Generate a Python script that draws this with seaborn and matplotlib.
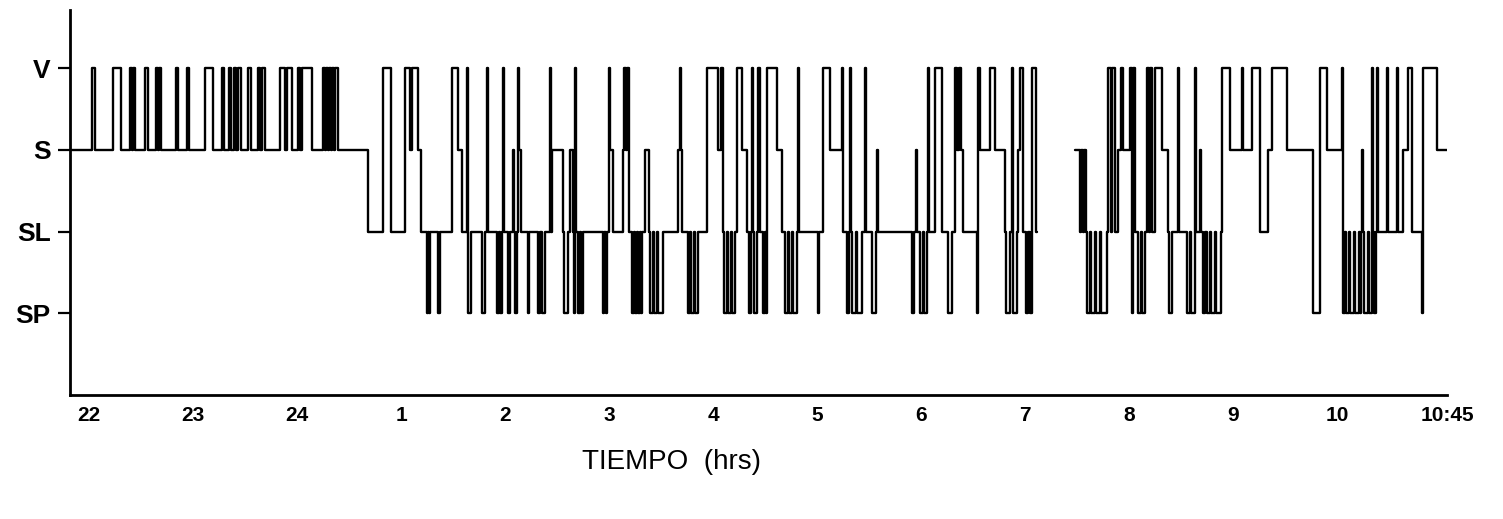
import matplotlib
matplotlib.use("Agg")
import matplotlib.pyplot as plt
import seaborn as sns
import pandas as pd

# ---- data -------------------------------------------------------------
stage_order = ["SP", "SL", "S", "V"]          # bottom -> top
stage_value = {"SP": 0, "SL": 1, "S": 2, "V": 3}

# x tick positions (minutes after 22:00) and labels
tick_minutes = [0, 60, 120, 180, 240, 300, 360, 420, 480, 540, 600, 660, 720, 783.4]
tick_labels = ["22", "23", "24", "1", "2", "3", "4", "5", "6", "7", "8", "9", "10", "10:45"]

# first recorded stretch (22:00 -> ~7:05)
times_1 = [
    -11.0, 1.7, 3.5, 13.8, 18.5, 23.7, 24.8, 25.4, 26.5, 32.3,
    34.0, 38.7, 39.8, 40.4, 41.5, 50.2, 51.3, 56.5, 57.7, 66.9,
    71.5, 76.7, 77.9, 80.8, 81.9, 83.7, 84.8, 86.0, 87.7, 91.7,
    93.5, 97.5, 98.7, 99.8, 101.5, 110.2, 113.1, 114.2, 117.1, 120.6,
    121.7, 122.9, 128.7, 135.0, 136.2, 136.7, 137.9, 138.5, 139.6, 140.2,
    141.3, 141.9, 143.6, 161.0, 169.6, 174.2, 182.3, 185.2, 186.3, 189.8,
    191.5, 195.0, 195.6, 196.1, 196.7, 201.3, 202.5, 209.4, 212.9, 215.2,
    218.1, 218.6, 220.4, 226.7, 228.5, 229.6, 230.2, 235.4, 236.5, 237.1,
    238.3, 238.8, 239.4, 241.7, 242.9, 244.6, 245.2, 245.8, 246.9, 247.5,
    248.1, 249.2, 253.3, 253.8, 259.0, 260.2, 261.3, 263.1, 265.9, 266.5,
    267.1, 273.5, 274.0, 276.3, 277.5, 279.2, 279.8, 280.4, 281.0, 282.1,
    283.3, 283.8, 285.0, 296.5, 297.1, 298.3, 298.8, 300.0, 300.6, 302.3,
    308.1, 308.7, 309.8, 310.4, 311.5, 313.3, 314.4, 315.0, 316.2, 316.7,
    317.9, 318.5, 319.0, 320.8, 323.1, 323.6, 325.4, 326.0, 327.7, 328.3,
    331.1, 339.8, 341.0, 341.5, 342.1, 345.6, 346.7, 347.3, 349.0, 349.6,
    351.3, 356.5, 362.9, 364.6, 365.8, 366.3, 368.1, 368.6, 370.4, 370.9,
    372.7, 373.8, 376.7, 379.6, 380.8, 381.9, 382.5, 383.1, 383.6, 385.4,
    385.9, 387.1, 388.8, 390.0, 390.6, 391.1, 396.9, 399.8, 401.5, 403.3,
    403.8, 405.6, 406.1, 408.4, 409.0, 409.6, 420.6, 421.1, 423.4, 427.5,
    434.4, 435.0, 437.3, 438.4, 439.0, 439.6, 440.2, 442.5, 443.1, 445.9,
    447.7, 448.3, 451.7, 454.0, 454.6, 455.2, 474.8, 475.9, 477.1, 477.7,
    479.4, 481.1, 481.7, 483.4, 484.0, 484.6, 488.1, 492.1, 495.6, 497.9,
    499.6, 500.8, 501.9, 503.1, 504.2, 512.3, 512.9, 514.0, 519.8, 522.7,
    528.4, 529.0, 531.3, 532.5, 533.1, 535.4, 535.9, 537.1, 538.8, 540.6,
    541.7, 542.9, 544.0, 546.3, 546.9,
]
stages_1 = [
    "S", "V", "S", "V", "S", "V", "S", "V", "S", "V",
    "S", "V", "S", "V", "S", "V", "S", "V", "S", "V",
    "S", "V", "S", "V", "S", "V", "S", "V", "S", "V",
    "S", "V", "S", "V", "S", "V", "S", "V", "S", "V",
    "S", "V", "S", "V", "S", "V", "S", "V", "S", "V",
    "S", "V", "S", "SL", "V", "SL", "V", "S", "V", "S",
    "SL", "SP", "SL", "SP", "SL", "SP", "SL", "V", "S", "SL",
    "V", "SP", "SL", "SP", "SL", "V", "SL", "SP", "SL", "SP",
    "SL", "V", "SL", "SP", "SL", "S", "SL", "SP", "SL", "V",
    "S", "SL", "SP", "SL", "SP", "SL", "SP", "SL", "V", "SL",
    "S", "SL", "SP", "SL", "S", "SL", "SP", "V", "SL", "SP",
    "SL", "SP", "SL", "SP", "SL", "SP", "SL", "V", "S", "SL",
    "S", "V", "S", "V", "SL", "SP", "SL", "SP", "SL", "SP",
    "SL", "SP", "SL", "S", "SL", "SP", "SL", "SP", "SL", "SP",
    "SL", "S", "V", "S", "SL", "SP", "SL", "SP", "SL", "SP",
    "SL", "V", "S", "V", "SL", "SP", "SL", "SP", "SL", "SP",
    "SL", "V", "S", "SL", "SP", "SL", "V", "SL", "SP", "SL",
    "V", "SL", "SP", "SL", "SP", "V", "S", "SL", "SP", "SL",
    "SP", "SL", "SP", "SL", "V", "SL", "SP", "SL", "V", "S",
    "V", "SL", "SP", "SL", "V", "SL", "SP", "SL", "SP", "SL",
    "V", "SL", "SP", "SL", "S", "SL", "SP", "SL", "S", "SL",
    "SP", "SL", "SP", "SL", "V", "SL", "V", "SL", "SP", "SL",
    "V", "S", "V", "S", "SL", "SP", "V", "S", "V", "S",
    "SL", "SP", "SL", "V", "SP", "SL", "S", "V", "SL", "SP",
    "SL", "SP", "V", "SL", "SL",
]

# second recorded stretch (~7:25 -> 10:45), after a gap in the trace
times_2 = [
    568.8, 571.7, 572.3, 573.4, 574.0, 575.2, 575.8, 577.5, 578.1, 580.4,
    581.0, 583.2, 583.8, 587.3, 587.9, 589.6, 590.2, 591.9, 593.6, 595.4,
    596.5, 600.6, 601.7, 602.3, 603.5, 605.2, 606.9, 607.5, 609.2, 610.4,
    611.5, 612.1, 613.3, 615.0, 619.0, 622.5, 623.1, 624.8, 628.2, 628.8,
    633.4, 635.2, 635.7, 638.1, 638.6, 640.9, 641.5, 642.7, 643.8, 645.0,
    646.7, 647.3, 649.6, 650.2, 653.1, 653.7, 658.3, 665.2, 665.8, 671.0,
    675.6, 680.2, 682.5, 691.2, 706.2, 710.2, 714.2, 722.9, 723.5, 724.6,
    725.2, 726.9, 727.5, 729.8, 730.4, 732.7, 733.3, 733.8, 734.4, 735.0,
    735.6, 737.9, 738.5, 740.2, 740.8, 741.3, 742.5, 743.1, 743.7, 748.8,
    749.4, 754.6, 755.2, 758.1, 761.0, 763.2, 769.0, 769.6, 777.7, 783.4,
]
stages_2 = [
    "S", "SL", "S", "SL", "S", "SL", "SP", "SL", "SP", "SL",
    "SP", "SL", "SP", "SL", "V", "SL", "V", "SL", "S", "V",
    "S", "V", "SP", "V", "SL", "SP", "SL", "SP", "SL", "V",
    "SL", "V", "SL", "V", "S", "SL", "SP", "SL", "V", "SL",
    "SP", "SL", "SP", "V", "SL", "S", "SL", "SP", "SL", "SP",
    "SL", "SP", "SL", "SP", "SL", "V", "S", "V", "S", "V",
    "SL", "S", "V", "S", "SP", "V", "S", "V", "SP", "SL",
    "SP", "SL", "SP", "SL", "SP", "SL", "SP", "SL", "S", "SL",
    "SP", "SL", "SP", "V", "SL", "SP", "SL", "V", "SL", "V",
    "SL", "V", "SL", "S", "V", "SL", "SP", "V", "S", "S",
]

assert len(times_1) == len(stages_1)
assert len(times_2) == len(stages_2)

df = pd.concat([
    pd.DataFrame({"tiempo": times_1, "etapa": stages_1, "tramo": 1}),
    pd.DataFrame({"tiempo": times_2, "etapa": stages_2, "tramo": 2}),
], ignore_index=True)
df["nivel"] = df["etapa"].map(stage_value)

# ---- plot -------------------------------------------------------------
sns.set_style("white")
plt.rcParams["font.family"] = ["Liberation Sans", "DejaVu Sans"]
plt.rcParams["text.color"] = "black"
plt.rcParams["xtick.color"] = "black"
plt.rcParams["ytick.color"] = "black"
plt.rcParams["axes.labelcolor"] = "black"

fig = plt.figure(figsize=(15.03, 5.19), dpi=100)
ax = fig.add_axes([70 / 1503, (519 - 395) / 519, 1377 / 1503, 385 / 519])

sns.lineplot(data=df, x="tiempo", y="nivel", units="tramo", estimator=None,
             sort=False, drawstyle="steps-post", color="black", linewidth=1.7,
             legend=False, ax=ax)

ax.set_xlim(-11.0, 783.4)
ax.set_ylim(-1.0, 3.71)

ax.set_yticks([stage_value[s] for s in stage_order])
ax.set_yticklabels(stage_order, fontsize=19, fontweight="bold", color="black")
ax.tick_params(axis="y", direction="out", length=9, width=1.6, pad=5, left=True,
               color="black", labelcolor="black")

ax.set_xticks(tick_minutes)
ax.set_xticklabels(tick_labels, fontsize=15, fontweight="bold", color="black")
ax.tick_params(axis="x", length=0, pad=8, labelcolor="black")

ax.set_xlabel("TIEMPO  (hrs)", fontsize=20, color="black")
ax.xaxis.set_label_coords(0.4365, -0.14)
ax.set_ylabel("")

for side in ["top", "right"]:
    ax.spines[side].set_visible(False)
for side in ["left", "bottom"]:
    ax.spines[side].set_visible(True)
    ax.spines[side].set_color("black")
    ax.spines[side].set_linewidth(2.0)

fig.savefig("out.png", dpi=100, facecolor="white")
